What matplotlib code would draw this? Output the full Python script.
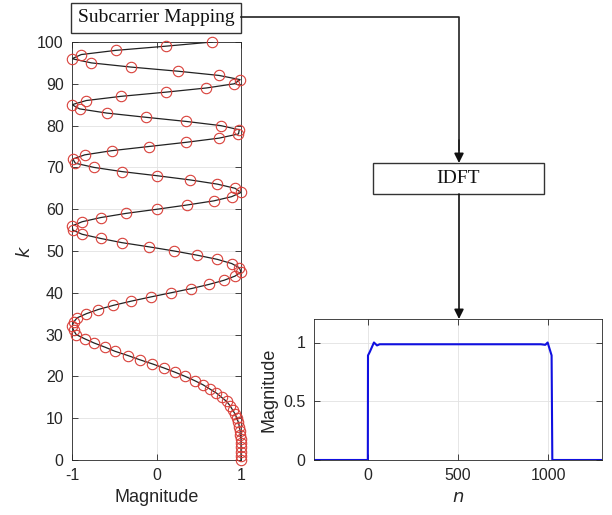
import matplotlib
matplotlib.use('Agg')
import matplotlib.pyplot as plt
from matplotlib.patches import Rectangle, FancyArrowPatch
from matplotlib.lines import Line2D

# subcarrier index and real part of the mapped sequence
k_idx = list(range(101))
k_mag = [1.00, 1.00, 1.00, 1.00, 1.00, 1.00, 0.99, 0.99, 0.98, 0.97,
         0.95, 0.93, 0.90, 0.87, 0.83, 0.77, 0.71, 0.63, 0.55, 0.45,
         0.34, 0.22, 0.09, -0.05, -0.20, -0.34, -0.49, -0.61, -0.74, -0.85,
         -0.95, -0.98, -1.00, -0.98, -0.94, -0.83, -0.69, -0.51, -0.30, -0.07,
         0.17, 0.41, 0.62, 0.80, 0.93, 1.00, 0.98, 0.89, 0.72, 0.48,
         0.21, -0.09, -0.41, -0.66, -0.88, -0.99, -1.00, -0.88, -0.66, -0.36,
         0.01, 0.36, 0.68, 0.89, 1.00, 0.93, 0.72, 0.40, 0.01, -0.41,
         -0.74, -0.96, -0.99, -0.85, -0.53, -0.09, 0.35, 0.74, 0.97, 0.98,
         0.76, 0.35, -0.13, -0.59, -0.91, -1.00, -0.83, -0.42, 0.11, 0.59,
         0.92, 0.99, 0.74, 0.26, -0.30, -0.77, -1.00, -0.89, -0.48, 0.11,
         0.66]

# time-domain magnitude after the IDFT
n_idx = [-300, -1, 0, 10, 33, 50, 65, 500, 960, 985, 998, 1012, 1020, 1024, 1300]
n_mag = [0, 0, 0.89, 0.92, 1.0, 0.975, 0.985, 0.985, 0.985, 0.98, 1.0, 0.93, 0.89, 0, 0]

W, H = 612, 515
plt.rcParams['font.family'] = ['Liberation Sans', 'DejaVu Sans']
plt.rcParams['axes.unicode_minus'] = False
fig = plt.figure(figsize=(W / 100, H / 100), dpi=100)

def fx(px):
    return px / W

def fy(py):
    return 1 - py / H

def style(ax):
    ax.tick_params(direction='in', top=True, right=True, labelsize=11.5,
                   colors='#262626', length=4, width=0.6, pad=6)
    for s in ax.spines.values():
        s.set_color('#262626')
        s.set_linewidth(0.6)
    ax.grid(True, color='#e2e2e2', linewidth=0.6)
    ax.set_axisbelow(True)

# left: sequence on subcarriers
ax1 = fig.add_axes([fx(72), fy(460), fx(241 - 72), (460 - 42) / H])
ax1.plot(k_mag, k_idx, '-', color='#222222', lw=0.9)
ax1.plot(k_mag, k_idx, 'o', mfc='none', mec='#d9403a', ms=7.5, mew=0.8,
         clip_on=False, zorder=3)
ax1.set_xlim(-1, 1)
ax1.set_ylim(0, 100)
ax1.set_xticks([-1, 0, 1])
ax1.set_yticks(range(0, 101, 10))
ax1.set_xlabel('Magnitude', fontsize=13, color='#262626', labelpad=4)
ax1.set_ylabel('$k$', fontsize=13, color='#262626', labelpad=2)
style(ax1)

# right: magnitude of the IDFT output
ax2 = fig.add_axes([fx(314), fy(460), fx(602 - 314), (460 - 319) / H])
ax2.plot(n_idx, n_mag, '-', color='#1010e0', lw=1.5)
ax2.set_xlim(-300, 1300)
ax2.set_ylim(0, 1.2)
ax2.set_xticks([0, 500, 1000])
ax2.set_yticks([0, 0.5, 1])
ax2.set_yticklabels(['0', '0.5', '1'])
ax2.set_xlabel('$n$', fontsize=13, color='#262626', labelpad=4)
ax2.set_ylabel('Magnitude', fontsize=13, color='#262626')
style(ax2)

# block diagram
def block(x0, y0, x1, y1, label):
    fig.add_artist(Rectangle((fx(x0), fy(y1)), fx(x1 - x0), (y1 - y0) / H,
                             transform=fig.transFigure, fill=False,
                             edgecolor='#333333', lw=1.0))
    fig.text(fx((x0 + x1) / 2), fy((y0 + y1) / 2), label, ha='center', va='center',
             fontsize=14, family='Liberation Serif', color='#111111')

block(71, 3, 241, 33, 'Subcarrier Mapping')
block(373, 163, 544, 194, 'IDFT')

fig.add_artist(Line2D([fx(241), fx(459), fx(459)], [fy(17), fy(17), fy(150)],
                      transform=fig.transFigure, color='#222222', lw=1.2))

def arrow(y0, y1):
    fig.add_artist(FancyArrowPatch((fx(459), fy(y0)), (fx(459), fy(y1)),
                                   transform=fig.transFigure, arrowstyle='-|>',
                                   mutation_scale=14, color='#111111', lw=1.2,
                                   shrinkA=0, shrinkB=0))

arrow(140, 163)
arrow(194, 319)

fig.savefig('out.png', dpi=100)
